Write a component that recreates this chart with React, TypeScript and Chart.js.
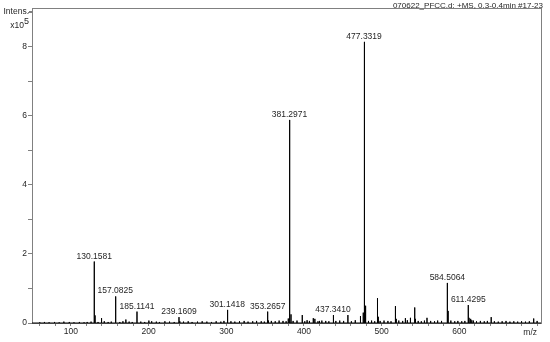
import { useEffect, useRef } from 'react';
import { Chart, registerables } from 'chart.js';

Chart.register(...registerables);

// Labelled peaks (m/z, intensity in units of 1e5)
const labeledMz = [130.1581, 157.0825, 185.1141, 239.1609, 301.1418, 353.2657, 381.2971, 437.3410, 477.3319, 584.5064, 611.4295];
const labeledIntensity = [1.78, 0.77, 0.33, 0.17, 0.38, 0.33, 5.88, 0.23, 8.14, 1.16, 0.52];

// Unlabelled peaks
const minorMz = [131.16, 139.5, 158.08, 170.8, 200.4, 240.2, 302.1, 354.3, 379.8, 381.75, 383.3, 397.8, 404.0, 412.0, 414.0, 420.0, 438.3, 456.5, 472.7, 476.3, 478.1, 479.3, 494.6, 495.6, 517.7, 518.7, 530.5, 537.0, 542.5, 543.5, 558.3, 585.5, 612.4, 614.5, 616.0, 640.9, 695.6];
const minorIntensity = [0.22, 0.14, 0.15, 0.10, 0.07, 0.05, 0.08, 0.07, 0.13, 4.95, 0.25, 0.23, 0.08, 0.14, 0.12, 0.06, 0.07, 0.23, 0.20, 0.30, 2.65, 0.50, 0.72, 0.18, 0.49, 0.12, 0.14, 0.15, 0.45, 0.12, 0.15, 0.35, 0.15, 0.12, 0.08, 0.17, 0.13];

// Baseline noise peaks
const noiseMz = [60, 66, 72, 79, 85, 91, 98, 104, 111, 117, 121, 126, 135, 143, 148, 152, 163, 167, 175, 179, 190, 195, 204, 210, 214, 221, 227, 233, 245, 251, 256, 263, 269, 275, 281, 287, 293, 297, 306, 311, 317, 323, 328, 334, 339, 345, 349, 358, 363, 368, 373, 377, 386, 391, 401, 407, 418, 423, 428, 432, 441, 446, 451, 461, 466, 483, 487, 491, 498, 503, 508, 512, 522, 527, 533, 547, 551, 555, 563, 568, 572, 577, 589, 594, 598, 603, 607, 618, 622, 627, 632, 636, 645, 650, 655, 660, 665, 670, 675, 680, 685, 690, 700];
const noiseIntensity = [0.02, 0.03, 0.02, 0.03, 0.02, 0.04, 0.03, 0.02, 0.03, 0.02, 0.03, 0.04, 0.03, 0.05, 0.03, 0.04, 0.03, 0.05, 0.04, 0.03, 0.04, 0.03, 0.05, 0.04, 0.03, 0.05, 0.04, 0.03, 0.04, 0.05, 0.03, 0.04, 0.05, 0.04, 0.03, 0.05, 0.04, 0.06, 0.05, 0.04, 0.05, 0.06, 0.04, 0.05, 0.06, 0.05, 0.04, 0.06, 0.05, 0.07, 0.06, 0.05, 0.06, 0.07, 0.05, 0.06, 0.05, 0.07, 0.06, 0.05, 0.06, 0.07, 0.06, 0.05, 0.08, 0.06, 0.07, 0.05, 0.06, 0.07, 0.06, 0.05, 0.07, 0.06, 0.08, 0.06, 0.05, 0.07, 0.06, 0.05, 0.07, 0.06, 0.07, 0.05, 0.06, 0.05, 0.06, 0.07, 0.05, 0.06, 0.05, 0.06, 0.05, 0.04, 0.05, 0.06, 0.04, 0.05, 0.04, 0.05, 0.04, 0.05, 0.06];

const xTickValues = [60, 80, 100, 120, 140, 160, 180, 200, 220, 240, 260, 280, 300, 320, 340, 360, 380, 400, 420, 440, 460, 480, 500, 520, 540, 560, 580, 600, 620, 640, 660, 680, 700];
const xLabelledTicks = [100, 200, 300, 400, 500, 600];
const yTickValues = [0, 1, 2, 3, 4, 5, 6, 7, 8, 9];
const yLabelledTicks = [0, 2, 4, 6, 8];

const titleText = '070622_PFCC.d: +MS, 0.3-0.4min #17-23';
const yTitle = 'Intens.';
const yExpBase = 'x10';
const yExp = '5';
const xTitle = 'm/z';

const FONT = '"Liberation Sans", Arial, sans-serif';
const TEXT = '#262626';
const FRAME = '#808080';

function buildPoints() {
  const all: { m: number; v: number }[] = [];
  labeledMz.forEach((m, i) => all.push({ m, v: labeledIntensity[i] }));
  minorMz.forEach((m, i) => all.push({ m, v: minorIntensity[i] }));
  noiseMz.forEach((m, i) => all.push({ m, v: noiseIntensity[i] }));
  all.sort((a, b) => a.m - b.m);
  const pts: { x: number; y: number }[] = [{ x: 50, y: 0 }];
  all.forEach(({ m, v }) => {
    pts.push({ x: m, y: 0 }, { x: m, y: v }, { x: m, y: 0 });
  });
  pts.push({ x: 705, y: 0 });
  return pts;
}

const decorPlugin = {
  id: 'decor',
  afterDraw(chart: any) {
    const { ctx, chartArea, scales } = chart;
    const x = scales.x;
    const y = scales.y;
    ctx.save();
    ctx.strokeStyle = FRAME;
    ctx.lineWidth = 1;
    ctx.beginPath();
    ctx.moveTo(chartArea.left, Math.round(chartArea.top) + 0.5);
    ctx.lineTo(chartArea.right, Math.round(chartArea.top) + 0.5);
    ctx.moveTo(Math.round(chartArea.right) + 0.5, chartArea.top);
    ctx.lineTo(Math.round(chartArea.right) + 0.5, chartArea.bottom);
    ctx.moveTo(chartArea.left - 3, Math.round(chartArea.top) + 3.5);
    ctx.lineTo(chartArea.left, Math.round(chartArea.top) + 3.5);
    ctx.stroke();

    ctx.fillStyle = TEXT;
    ctx.font = `8.5px ${FONT}`;
    ctx.textAlign = 'center';
    ctx.textBaseline = 'alphabetic';
    labeledMz.forEach((m, i) => {
      const px = x.getPixelForValue(m);
      const py = y.getPixelForValue(labeledIntensity[i]);
      ctx.fillText(m.toFixed(4), px, py - 3);
    });

    ctx.textAlign = 'right';
    ctx.font = `8px ${FONT}`;
    ctx.fillText(titleText, chartArea.right + 2, 8);

    ctx.font = `8.5px ${FONT}`;
    ctx.fillText(yTitle, chartArea.left - 3, 14);
    ctx.font = `9px ${FONT}`;
    const expW = ctx.measureText(yExp).width;
    ctx.font = `8.5px ${FONT}`;
    ctx.fillText(yExpBase, chartArea.left - 3 - expW, 28);
    ctx.font = `9px ${FONT}`;
    ctx.fillText(yExp, chartArea.left - 3, 24);

    ctx.font = `8.5px ${FONT}`;
    ctx.textAlign = 'right';
    ctx.textBaseline = 'middle';
    ctx.fillText(xTitle, chartArea.right - 4, chartArea.bottom + 10);
    ctx.restore();
  },
};

export default function App() {
  const ref = useRef<HTMLCanvasElement | null>(null);
  useEffect(() => {
    document.body.style.margin = '0';
    if (!ref.current) return;
    const chart = new Chart(ref.current, {
      type: 'line',
      data: {
        datasets: [
          {
            data: buildPoints(),
            borderColor: '#000000',
            borderWidth: 1,
            pointRadius: 0,
            tension: 0,
            fill: false,
            clip: false as any,
          },
        ],
      },
      options: {
        animation: false,
        responsive: false,
        maintainAspectRatio: false,
        parsing: false,
        normalized: true,
        layout: { padding: { top: 8, right: 9, left: 0, bottom: 0 } },
        plugins: { legend: { display: false }, tooltip: { enabled: false }, title: { display: false } },
        scales: {
          x: {
            type: 'linear',
            min: 50,
            max: 705,
            afterBuildTicks: (s: any) => {
              s.ticks = xTickValues.map((v) => ({ value: v }));
            },
            afterFit: (s: any) => {
              s.height = 19;
            },
            ticks: {
              autoSkip: false,
              maxRotation: 0,
              padding: 1,
              color: TEXT,
              font: { size: 8.5, family: FONT },
              callback: (v: any) => (xLabelledTicks.includes(Number(v)) ? String(v) : ''),
            },
            grid: { drawOnChartArea: false, drawTicks: true, tickLength: 3, tickColor: FRAME },
            border: { display: true, color: FRAME },
          },
          y: {
            type: 'linear',
            min: 0,
            max: 9.12,
            afterBuildTicks: (s: any) => {
              s.ticks = yTickValues.map((v) => ({ value: v }));
            },
            afterFit: (s: any) => {
              s.width = 32;
            },
            ticks: {
              autoSkip: false,
              padding: 1,
              color: TEXT,
              font: { size: 8.5, family: FONT },
              callback: (v: any) => (yLabelledTicks.includes(Number(v)) ? String(v) : ''),
            },
            grid: { drawOnChartArea: false, drawTicks: true, tickLength: 4, tickColor: FRAME },
            border: { display: true, color: FRAME },
          },
        },
      },
      plugins: [decorPlugin],
    });
    return () => chart.destroy();
  }, []);
  return <canvas ref={ref} width={550} height={342} style={{ display: 'block' }} />;
}
